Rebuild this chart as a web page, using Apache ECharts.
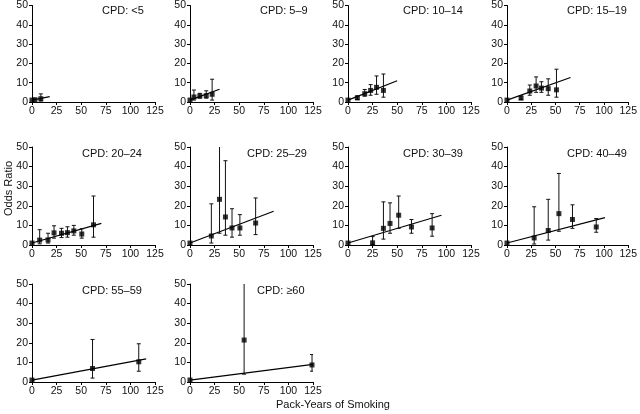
<!DOCTYPE html>
<html><head><meta charset="utf-8">
<script src="https://cdn.jsdelivr.net/npm/echarts@6/dist/echarts.min.js"></script>
<style>html,body{margin:0;padding:0;background:#fff}#c{width:640px;height:414px}</style>
</head><body><div id="c"></div>
<script>
// Panel titles
const panelTitles = ['CPD: <5','CPD: 5\u20139','CPD: 10\u201314','CPD: 15\u201319','CPD: 20\u201324','CPD: 25\u201329','CPD: 30\u201339','CPD: 40\u201349','CPD: 55\u201359','CPD: \u226560'];
// Points per panel: [pack-years, odds ratio, lower CI, upper CI]
const cpdLt5   = [[0,1,1,1],[3,1.2,1.2,1.2],[9,1.7,0.5,4.2]];
const cpd5to9  = [[0,1,1,1],[4,2.6,1,6.2],[10,3.1,2,4.5],[16.5,3.3,2,5.8],[22.5,4,1,11.8]];
const cpd10to14= [[0,1,1,1],[9.5,2.1,1.3,3.2],[17,4.3,3,6.5],[23,6,3.5,9],[29,7.6,4,13.5],[36,6,2.5,14.5]];
const cpd15to19= [[0,1,1,1],[14.5,2,1.3,3.2],[23.5,5.7,3.5,8.8],[30,8.3,5,13],[35.5,7.2,5,10.5],[42.5,6.9,3.5,12],[51,6.3,2.5,17]];
const cpd20to24= [[0,1,1,1],[7.8,2.5,0.6,7.8],[16.3,2.6,1,6],[22.4,6.2,3.5,9.8],[30,6,3.8,8.5],[36,6.3,4,9.3],[42.5,7.2,5,10],[50.6,5.6,3.5,8.3],[62.5,10.3,4,25]];
const cpd25to29= [[0,1,1,1],[21.7,4.6,1,21],[30,23.3,6,52],[36,14.3,5,43],[42.7,8.7,4,18.5],[50.7,8.7,5,15.5],[66.7,11.2,5.3,24]];
const cpd30to39= [[0,1,1,1],[25,1.1,0.3,4.3],[36,8.5,3,22],[42.7,11,6,21.5],[51.5,15.2,8.5,25],[64.5,9.2,6,13],[85.5,8.7,4.5,16]];
const cpd40to49= [[0,1,1,1],[28,3.6,0.5,19.5],[42.5,7.4,2.5,23.3],[53.5,16,7,36.5],[67.5,13,8.5,20.5],[92,9.2,6.5,13.5]];
const cpd55to59= [[0,1,1,1],[61.5,6.9,2,21.7],[108.5,10.3,5.5,19.5]];
const cpdGe60  = [[0,1,1,1],[55,21.4,4,52],[124,8.7,5.5,14]];
// Fitted lines: [x0, y0, x1, y1]
const fitLines = [[0,1,18,2.8],[0,1,30,6.6],[0,1,50,11],[0,1,65.5,12.7],[0,1,70.5,11],[0,1,85,17.2],[0,1,95,15.2],[0,1,101,14],[0,1,116,11.8],[0,1,125,9]];
// Axis ticks
const xTicks = [0,25,50,75,100,125];
const yTicks = [0,10,20,30,40,50];

const panels = [cpdLt5,cpd5to9,cpd10to14,cpd15to19,cpd20to24,cpd25to29,cpd30to39,cpd40to49,cpd55to59,cpdGe60];

// layout
const colLeft = [32,190,348,507];
const rowTop = [4,147,284];
const gw = 123, gh = 98;
const titleLeft = [102,260,403,567,82,247,403,567,82,257];

const FONT = 'Liberation Sans, Arial, Helvetica, sans-serif';
const grids=[], xAxes=[], yAxes=[], series=[], titles=[];

function errRender(params, api){
  const x=api.value(0), lo=api.value(2), hi=api.value(3);
  if (lo===hi) return;
  const t=api.coord([x,hi]), b=api.coord([x,lo]);
  const w=2, st={stroke:'#111',lineWidth:1};
  return {type:'group',children:[
    {type:'line',shape:{x1:t[0],y1:t[1],x2:b[0],y2:b[1]},style:st},
    {type:'line',shape:{x1:t[0]-w,y1:t[1],x2:t[0]+w,y2:t[1]},style:st},
    {type:'line',shape:{x1:b[0]-w,y1:b[1],x2:b[0]+w,y2:b[1]},style:st}
  ]};
}

panels.forEach((pts,i)=>{
  const r=Math.floor(i/4), c=i%4;
  const L=colLeft[c], T=rowTop[r];
  grids.push({left:L, top:T, width:gw, height:gh, containLabel:false});
  xAxes.push({gridIndex:i, type:'value', min:xTicks[0], max:xTicks[xTicks.length-1], interval:xTicks[1]-xTicks[0],
    axisLine:{lineStyle:{color:'#000',width:1}}, axisTick:{show:true,length:3,lineStyle:{color:'#000'}},
    axisLabel:{color:'#111',fontSize:10.5,fontFamily:FONT,margin:4}, splitLine:{show:false}});
  yAxes.push({gridIndex:i, type:'value', min:yTicks[0], max:yTicks[yTicks.length-1], interval:yTicks[1]-yTicks[0],
    axisLine:{show:true,lineStyle:{color:'#000',width:1}}, axisTick:{show:true,length:3,lineStyle:{color:'#000'}},
    axisLabel:{color:'#111',fontSize:10.5,fontFamily:FONT,margin:4}, splitLine:{show:false}});
  titles.push({text:panelTitles[i], left:titleLeft[i], top:T+1, textStyle:{fontSize:11,fontWeight:'normal',color:'#111',fontFamily:FONT}, padding:0});
  const f=fitLines[i];
  series.push({type:'line', xAxisIndex:i, yAxisIndex:i, data:[[f[0],f[1]],[f[2],f[3]]], symbol:'none',
    lineStyle:{color:'#000',width:1.2}, silent:true, animation:false, z:2});
  series.push({type:'custom', xAxisIndex:i, yAxisIndex:i, data:pts, renderItem:errRender, clip:true,
    encode:{x:0,y:[1,2,3]}, animation:false, z:3});
  series.push({type:'scatter', xAxisIndex:i, yAxisIndex:i, data:pts.map(p=>[p[0],p[1]]), symbol:'rect', symbolSize:5,
    itemStyle:{color:'#000'}, animation:false, z:4});
});

const chart = echarts.init(document.getElementById('c'), null, {renderer:'canvas'});
chart.setOption({
  backgroundColor:'#fff',
  animation:false,
  title:titles,
  grid:grids, xAxis:xAxes, yAxis:yAxes, series:series,
  graphic:[
    {type:'text', left:276, top:399, style:{text:'Pack-Years of Smoking', fontSize:11, fontFamily:FONT, fill:'#111'}},
    {type:'text', x:3, y:216, rotation:Math.PI/2, style:{text:'Odds Ratio', fontSize:11, fontFamily:FONT, fill:'#111'}}
  ]
});
</script></body></html>
